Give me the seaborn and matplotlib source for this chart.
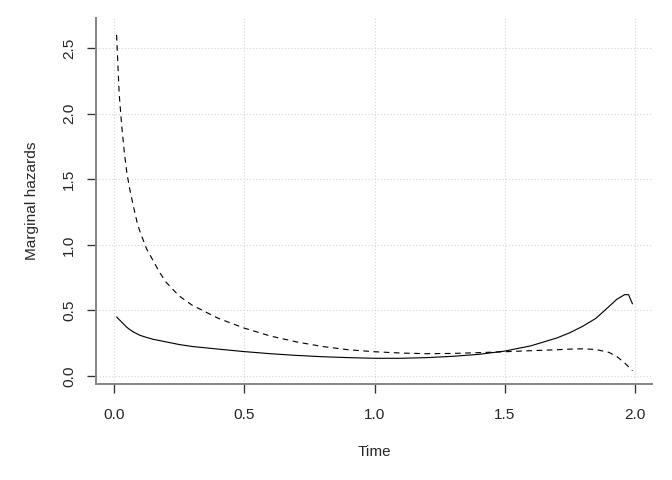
import numpy as np
import pandas as pd
import matplotlib
matplotlib.use("Agg")
import matplotlib.pyplot as plt
import seaborn as sns

# values
time = [0.01, 0.02, 0.03, 0.04, 0.05, 0.06, 0.075, 0.09, 0.1, 0.125, 0.15,
        0.175, 0.2, 0.25, 0.3, 0.35, 0.4, 0.5, 0.6, 0.7, 0.8, 0.9, 1.0, 1.1,
        1.2, 1.3, 1.4, 1.5, 1.6, 1.7, 1.75, 1.8, 1.85, 1.9, 1.93, 1.96,
        1.975, 1.99]
hazard_solid = [0.45, 0.43, 0.41, 0.39, 0.37, 0.355, 0.335, 0.32, 0.31,
                0.294, 0.28, 0.27, 0.26, 0.24, 0.225, 0.215, 0.205, 0.186,
                0.17, 0.157, 0.147, 0.14, 0.135, 0.135, 0.14, 0.15, 0.165,
                0.19, 0.23, 0.29, 0.33, 0.38, 0.44, 0.53, 0.585, 0.62, 0.62,
                0.55]
hazard_dashed = [2.6, 2.15, 1.9, 1.7, 1.54, 1.43, 1.29, 1.16, 1.1, 0.97,
                 0.88, 0.79, 0.715, 0.61, 0.54, 0.49, 0.44, 0.365, 0.305,
                 0.26, 0.225, 0.2, 0.185, 0.175, 0.17, 0.172, 0.178, 0.185,
                 0.193, 0.2, 0.205, 0.207, 0.202, 0.18, 0.148, 0.1, 0.07,
                 0.04]
x_ticks = [0.0, 0.5, 1.0, 1.5, 2.0]
y_ticks = [0.0, 0.5, 1.0, 1.5, 2.0, 2.5]

df = pd.DataFrame({"Time": time, "solid": hazard_solid, "dashed": hazard_dashed})

sns.set_style("white")
plt.rcParams["font.family"] = ["Liberation Sans", "DejaVu Sans"]

XMIN, XMAX = -0.069, 2.065
YMIN, YMAX = -0.061, 2.729

fig = plt.figure(figsize=(7, 5), dpi=96)
ax = fig.add_axes([96 / 672, 0.2, 556 / 672, 0.7625])

sns.lineplot(data=df, x="Time", y="solid", ax=ax, color="black", lw=0.85)
sns.lineplot(data=df, x="Time", y="dashed", ax=ax, color="black", lw=0.85,
             linestyle=(0, (5, 4)))

ax.set_xlim(XMIN, XMAX)
ax.set_ylim(YMIN, YMAX)
ax.set_xticks(x_ticks)
ax.set_yticks(y_ticks)
ax.set_xticklabels([f"{t:.1f}" for t in x_ticks], fontsize=11.5)
ax.set_yticklabels([f"{t:.1f}" for t in y_ticks], fontsize=11.5,
                   rotation=90, va="center")

# dotted light grid like R's grid()
ax.grid(True, color="#d3d3d3", linestyle=(0, (1, 2)), lw=0.8)
ax.set_axisbelow(True)

# L-shaped box in grey, axis lines in black between end ticks
for side in ["top", "right"]:
    ax.spines[side].set_visible(False)
for side in ["left", "bottom"]:
    ax.spines[side].set_color("#888888")
    ax.spines[side].set_linewidth(1.5)
ax.plot([x_ticks[0], x_ticks[-1]], [YMIN, YMIN], color="#333333", lw=1.5,
        clip_on=False, solid_capstyle="butt")
ax.plot([XMIN, XMIN], [y_ticks[0], y_ticks[-1]], color="#333333", lw=1.5,
        clip_on=False, solid_capstyle="butt")

ax.tick_params(axis="both", direction="out", length=7, width=1.0,
               color="#333333", left=True, bottom=True)
ax.tick_params(axis="x", pad=11)
ax.tick_params(axis="y", pad=8)

ax.set_xlabel("Time", fontsize=11.5, labelpad=17)
ax.set_ylabel("Marginal hazards", fontsize=11.5, labelpad=17)

fig.savefig("out.png", dpi=96)
